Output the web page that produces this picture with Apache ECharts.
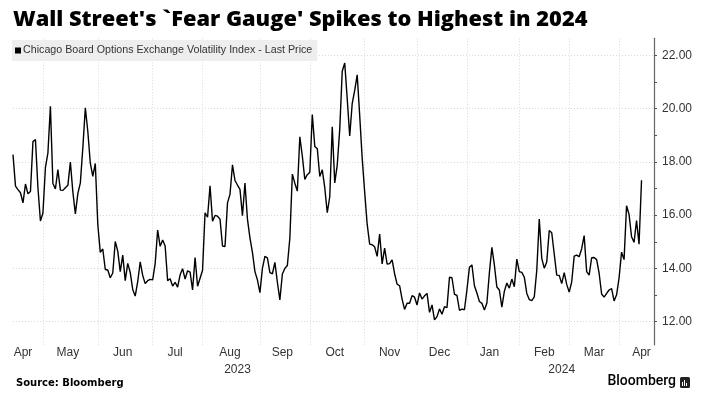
<!DOCTYPE html>
<html><head><meta charset="utf-8">
<script src="https://cdn.jsdelivr.net/npm/echarts@6.0.0/dist/echarts.min.js"></script>
<style>html,body{margin:0;padding:0;background:#fff}#c{width:704px;height:410px}</style>
</head><body><div id="c"></div>
<script>
const seriesName = 'Chicago Board Options Exchange Volatility Index - Last Price';
const dates = [
'2023-04-13','2023-04-14','2023-04-17','2023-04-18','2023-04-19','2023-04-20','2023-04-21','2023-04-24','2023-04-25','2023-04-26','2023-04-27','2023-04-28',
'2023-05-01','2023-05-02','2023-05-03','2023-05-04','2023-05-05','2023-05-08','2023-05-09','2023-05-10','2023-05-11','2023-05-12','2023-05-15','2023-05-16','2023-05-17','2023-05-18','2023-05-19','2023-05-22','2023-05-23','2023-05-24','2023-05-25','2023-05-26','2023-05-30','2023-05-31',
'2023-06-01','2023-06-02','2023-06-05','2023-06-06','2023-06-07','2023-06-08','2023-06-09','2023-06-12','2023-06-13','2023-06-14','2023-06-15','2023-06-16','2023-06-19','2023-06-20','2023-06-21','2023-06-22','2023-06-23','2023-06-26','2023-06-27','2023-06-28','2023-06-29','2023-06-30',
'2023-07-03','2023-07-05','2023-07-06','2023-07-07','2023-07-10','2023-07-11','2023-07-12','2023-07-13','2023-07-14','2023-07-17','2023-07-18','2023-07-19','2023-07-20','2023-07-21','2023-07-24','2023-07-25','2023-07-26','2023-07-27','2023-07-28','2023-07-31',
'2023-08-01','2023-08-02','2023-08-03','2023-08-04','2023-08-07','2023-08-08','2023-08-09','2023-08-10','2023-08-11','2023-08-14','2023-08-15','2023-08-16','2023-08-17','2023-08-18','2023-08-21','2023-08-22','2023-08-23','2023-08-24','2023-08-25','2023-08-28','2023-08-29','2023-08-30','2023-08-31',
'2023-09-01','2023-09-05','2023-09-06','2023-09-07','2023-09-08','2023-09-11','2023-09-12','2023-09-13','2023-09-14','2023-09-15','2023-09-18','2023-09-19','2023-09-20','2023-09-21','2023-09-22','2023-09-25','2023-09-26','2023-09-27','2023-09-28','2023-09-29',
'2023-10-02','2023-10-03','2023-10-04','2023-10-05','2023-10-06','2023-10-09','2023-10-10','2023-10-11','2023-10-12','2023-10-13','2023-10-16','2023-10-17','2023-10-18','2023-10-19','2023-10-20','2023-10-23','2023-10-24','2023-10-25','2023-10-26','2023-10-27','2023-10-30','2023-10-31',
'2023-11-01','2023-11-02','2023-11-03','2023-11-06','2023-11-07','2023-11-08','2023-11-09','2023-11-10','2023-11-13','2023-11-14','2023-11-15','2023-11-16','2023-11-17','2023-11-20','2023-11-21','2023-11-22','2023-11-24','2023-11-27','2023-11-28','2023-11-29','2023-11-30',
'2023-12-01','2023-12-04','2023-12-05','2023-12-06','2023-12-07','2023-12-08','2023-12-11','2023-12-12','2023-12-13','2023-12-14','2023-12-15','2023-12-18','2023-12-19','2023-12-20','2023-12-21','2023-12-22','2023-12-26','2023-12-27','2023-12-28','2023-12-29',
'2024-01-02','2024-01-03','2024-01-04','2024-01-05','2024-01-08','2024-01-09','2024-01-10','2024-01-11','2024-01-12','2024-01-16','2024-01-17','2024-01-18','2024-01-19','2024-01-22','2024-01-23','2024-01-24','2024-01-25','2024-01-26','2024-01-29','2024-01-30','2024-01-31',
'2024-02-01','2024-02-02','2024-02-05','2024-02-06','2024-02-07','2024-02-08','2024-02-09','2024-02-12','2024-02-13','2024-02-14','2024-02-15','2024-02-16','2024-02-20','2024-02-21','2024-02-22','2024-02-23','2024-02-26','2024-02-27','2024-02-28','2024-02-29',
'2024-03-01','2024-03-04','2024-03-05','2024-03-06','2024-03-07','2024-03-08','2024-03-11','2024-03-12','2024-03-13','2024-03-14','2024-03-15','2024-03-18','2024-03-19','2024-03-20','2024-03-21','2024-03-22','2024-03-25','2024-03-26','2024-03-27','2024-03-28',
'2024-04-01','2024-04-02','2024-04-03','2024-04-04','2024-04-05','2024-04-08','2024-04-09','2024-04-10','2024-04-11','2024-04-12',
'2024-04-15','2024-04-16','2024-04-17','2024-04-18','2024-04-19'
];
const vix = [
18.27,17.09,16.96,16.84,16.46,17.17,16.80,16.89,18.76,18.84,17.03,15.78,
16.08,17.78,18.34,20.09,17.19,16.98,17.71,16.94,16.93,17.03,17.12,17.99,16.87,16.05,16.81,17.21,18.53,20.03,19.14,17.95,17.46,17.94,
15.65,14.60,14.73,13.96,13.94,13.65,13.83,15.01,14.65,13.88,14.50,13.54,14.19,13.85,13.21,12.96,13.50,14.25,13.74,13.43,13.54,13.59,
13.57,14.18,15.44,14.83,15.07,14.84,13.54,13.61,13.34,13.48,13.30,13.76,13.99,13.60,13.91,13.86,13.19,14.41,13.33,13.63,
13.93,16.09,15.92,17.10,15.77,15.99,15.96,15.85,14.84,14.82,16.46,16.78,17.89,17.30,17.13,16.97,15.98,17.20,15.85,15.15,14.60,13.88,13.57,
13.09,14.00,14.45,14.40,13.84,13.80,14.23,13.48,12.82,13.79,14.00,14.11,15.14,17.54,17.20,16.90,18.94,18.22,17.34,17.52,
17.61,19.78,18.58,18.49,17.45,17.70,17.03,16.09,16.69,19.32,17.21,17.88,19.22,21.40,21.71,20.37,18.97,20.19,20.68,21.27,19.75,18.14,
16.87,15.66,14.91,14.89,14.81,14.45,15.29,14.17,14.76,14.16,14.18,14.32,13.80,13.41,13.35,12.85,12.46,12.69,12.69,12.98,12.92,
12.63,13.08,12.85,12.97,13.06,12.35,12.63,12.07,12.19,12.48,12.28,12.56,12.53,13.67,13.65,13.03,12.99,12.43,12.47,12.45,
13.20,14.04,14.13,13.35,13.08,12.76,12.69,12.44,12.70,13.84,14.79,14.13,13.30,13.19,12.55,13.14,13.45,13.26,13.60,13.31,14.35,
13.88,13.85,13.67,13.06,12.83,12.79,12.93,13.93,15.85,14.38,14.01,14.24,15.42,15.34,14.54,13.75,13.74,13.43,13.84,13.40,
13.11,13.49,14.46,14.50,14.44,14.74,15.23,13.88,13.75,14.40,14.41,14.33,13.82,13.04,12.92,13.06,13.19,13.24,12.78,13.01,
13.65,14.61,14.33,16.35,16.03,15.19,14.98,15.80,14.91,17.31
];
const monthLabels = ['Apr','May','Jun','Jul','Aug','Sep','Oct','Nov','Dec','Jan','Feb','Mar','Apr'];
const monthLabelDates = ['2023-04-19','2023-05-15','2023-06-15','2023-07-17','2023-08-16','2023-09-15','2023-10-16','2023-11-15','2023-12-14','2024-01-16','2024-02-15','2024-03-15','2024-04-12'];
const monthStartDates = ['2023-05-01','2023-06-01','2023-07-03','2023-08-01','2023-09-01','2023-10-02','2023-11-01','2023-12-01','2024-01-02','2024-02-01','2024-03-01','2024-04-01'];
const yearLabels = ['2023','2024'];
const yearLabelDates = ['2023-08-21','2024-02-27'];
const yMin = 12, yMax = 22, yStep = 2;

const labelFont = 'Liberation Sans, Arial, sans-serif';
const gridColor = '#d9d9d9';

const chart = echarts.init(document.getElementById('c'));
chart.setOption({
  animation: false,
  backgroundColor: '#ffffff',
  title: {
    text: "Wall Street's `Fear Gauge' Spikes to Highest in 2024",
    left: 13, top: 9, padding: 0,
    textStyle: { fontFamily: '"Open Sans", sans-serif', fontWeight: 800, fontSize: 21.8, color: '#000' }
  },
  legend: {
    left: 12, top: 40,
    padding: [5, 5, 5, 3],
    backgroundColor: '#eeeeee',
    icon: 'rect', itemWidth: 6, itemHeight: 6,
    data: [seriesName],
    textStyle: { fontFamily: labelFont, fontSize: 10.7, color: '#333', padding: [0, 0, 0, -3] }
  },
  grid: [
    { left: 13, right: 50, top: 55.3, bottom: 88.3 },
    { left: 13, right: 50, top: 38.3, bottom: 65 }
  ],
  xAxis: [
    { type: 'category', gridIndex: 0, data: dates, boundaryGap: false, show: false },
    { type: 'category', gridIndex: 1, data: dates, boundaryGap: false,
      axisLine: { show: false }, axisTick: { show: false },
      splitLine: { show: true, interval: (i, v) => monthStartDates.indexOf(v) >= 0,
        lineStyle: { color: gridColor, type: [1, 2], width: 1 } },
      axisLabel: { interval: (i, v) => monthLabelDates.indexOf(v) >= 0,
        formatter: v => monthLabels[monthLabelDates.indexOf(v)] || '',
        color: '#333', fontFamily: labelFont, fontSize: 12, margin: 2 } },
    { type: 'category', gridIndex: 1, data: dates, boundaryGap: false, position: 'bottom', offset: 16,
      axisLine: { show: false }, axisTick: { show: false }, splitLine: { show: false },
      axisLabel: { interval: (i, v) => yearLabelDates.indexOf(v) >= 0,
        formatter: v => yearLabels[yearLabelDates.indexOf(v)] || '',
        color: '#333', fontFamily: labelFont, fontSize: 12, margin: 3 } }
  ],
  yAxis: [
    { type: 'value', gridIndex: 0, position: 'right', min: yMin, max: yMax, interval: yStep,
      axisLine: { show: false },
      axisTick: { show: true, length: 3, lineStyle: { color: '#555' } },
      minorTick: { show: true, splitNumber: 2, length: 3, lineStyle: { color: '#555' } },
      axisLabel: { formatter: v => v.toFixed(2), color: '#333', fontFamily: labelFont, fontSize: 12, margin: 8 },
      splitLine: { show: true, lineStyle: { color: gridColor, type: [1, 2], width: 1 } } },
    { type: 'value', gridIndex: 1, position: 'right', min: 0, max: 1,
      axisLine: { show: true, lineStyle: { color: '#666', width: 1.2 } },
      axisTick: { show: false }, axisLabel: { show: false }, splitLine: { show: false } }
  ],
  series: [{
    name: seriesName, type: 'line', xAxisIndex: 0, yAxisIndex: 0,
    data: vix, showSymbol: false, symbol: 'none',
    lineStyle: { color: '#000', width: 1.4 }, itemStyle: { color: '#000' }
  }],
  graphic: [
    { type: 'text', left: 16, top: 378, style: { text: 'Source: Bloomberg', font: 'bold 10px "DejaVu Sans", sans-serif', fill: '#000' } },
    { type: 'text', right: 28, top: 374, style: { text: 'Bloomberg', font: '500 14px Roboto, sans-serif', fill: '#000' } },
    { type: 'rect', right: 14, top: 377, shape: { width: 10, height: 11, r: 1.5 }, style: { fill: '#222' } },
    { type: 'rect', right: 21, top: 382, shape: { width: 1, height: 4 }, style: { fill: '#fff' } },
    { type: 'rect', right: 19, top: 380, shape: { width: 1, height: 6 }, style: { fill: '#fff' } },
    { type: 'rect', right: 17, top: 383, shape: { width: 1, height: 3 }, style: { fill: '#fff' } }
  ]
});
</script>
</body></html>
